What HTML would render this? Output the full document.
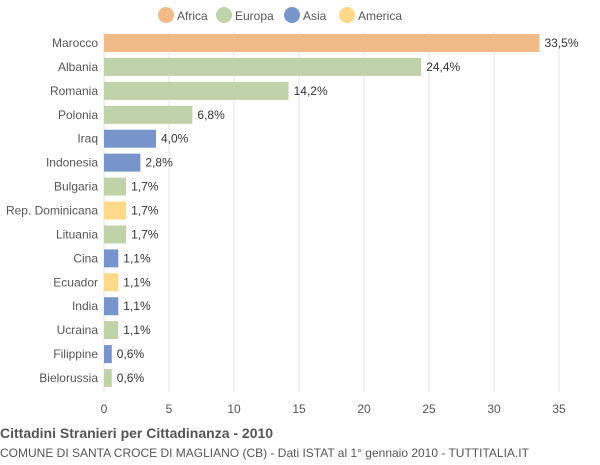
<!DOCTYPE html>
<html><head><meta charset="utf-8"><style>
body{margin:0;background:#fff;font-family:"Liberation Sans",sans-serif;}
svg text{font-family:"Liberation Sans",sans-serif;}
</style></head><body>
<svg id="chart" width="600" height="460">
<g id="legend"></g>
<g id="grid"></g>
<g id="bars"></g>
<g id="xaxis"></g>
<text x="0" y="438" font-size="14" font-weight="bold" fill="#555">Cittadini Stranieri per Cittadinanza - 2010</text>
<text x="0" y="457" font-size="12" fill="#555">COMUNE DI SANTA CROCE DI MAGLIANO (CB) - Dati ISTAT al 1° gennaio 2010 - TUTTITALIA.IT</text>
</svg>
<script>
const categories=["Marocco","Albania","Romania","Polonia","Iraq","Indonesia","Bulgaria","Rep. Dominicana","Lituania","Cina","Ecuador","India","Ucraina","Filippine","Bielorussia"];
const values=[33.5,24.4,14.2,6.8,4.0,2.8,1.7,1.7,1.7,1.1,1.1,1.1,1.1,0.6,0.6];
const groups=["Africa","Europa","Europa","Europa","Asia","Asia","Europa","America","Europa","Asia","America","Asia","Europa","Asia","Europa"];
const legendNames=["Africa","Europa","Asia","America"];
const ticks=[0,5,10,15,20,25,30,35];
const colors={Africa:"#f0bb88",Europa:"#c0d2aa",Asia:"#7895cb",America:"#fed98b"};
const NS="http://www.w3.org/2000/svg";
const x0=104,x1=559,xmax=35,y0=43,step=23.93,bh=18;
const X=v=>x0+(x1-x0)*v/xmax;
const Y=i=>y0+i*step;
function mk(t,a,p){const e=document.createElementNS(NS,t);for(const k in a)e.setAttribute(k,a[k]);p.appendChild(e);return e;}
const g=document.getElementById("grid"),b=document.getElementById("bars"),xa=document.getElementById("xaxis"),lg=document.getElementById("legend");
ticks.forEach(t=>{
 const l=mk("line",{x1:X(t),x2:X(t),y1:32,y2:392,stroke:"#e4e4e4","stroke-width":1},g);
 
 
 const tx=mk("text",{x:X(t),y:413,"font-size":12,fill:"#555","text-anchor":"middle"},xa);
 tx.textContent=t;
 
 
});
categories.forEach((c,i)=>{
 const r=mk("rect",{x:X(0),y:Y(i)-bh/2,width:X(values[i])-X(0),height:bh,fill:colors[groups[i]]},b);
 
 
 const lb=mk("text",{x:98,y:Y(i)+4,"font-size":12,fill:"#555","text-anchor":"end"},b);
 lb.textContent=c;
 
 
 const vl=mk("text",{x:X(values[i])+5,y:Y(i)+4,"font-size":12,fill:"#333"},b);
 vl.textContent=values[i].toFixed(1).replace('.',',')+'%';
 
 
});
const lx=[166,224,292,347];
legendNames.forEach((n,i)=>{
 const c=mk("circle",{cx:lx[i],cy:15,r:8,fill:colors[n]},lg);
 
 
 const t=mk("text",{x:lx[i]+11,y:20,"font-size":12,fill:"#555"},lg);
 t.textContent=n;
 
 
});
</script>
</body></html>
